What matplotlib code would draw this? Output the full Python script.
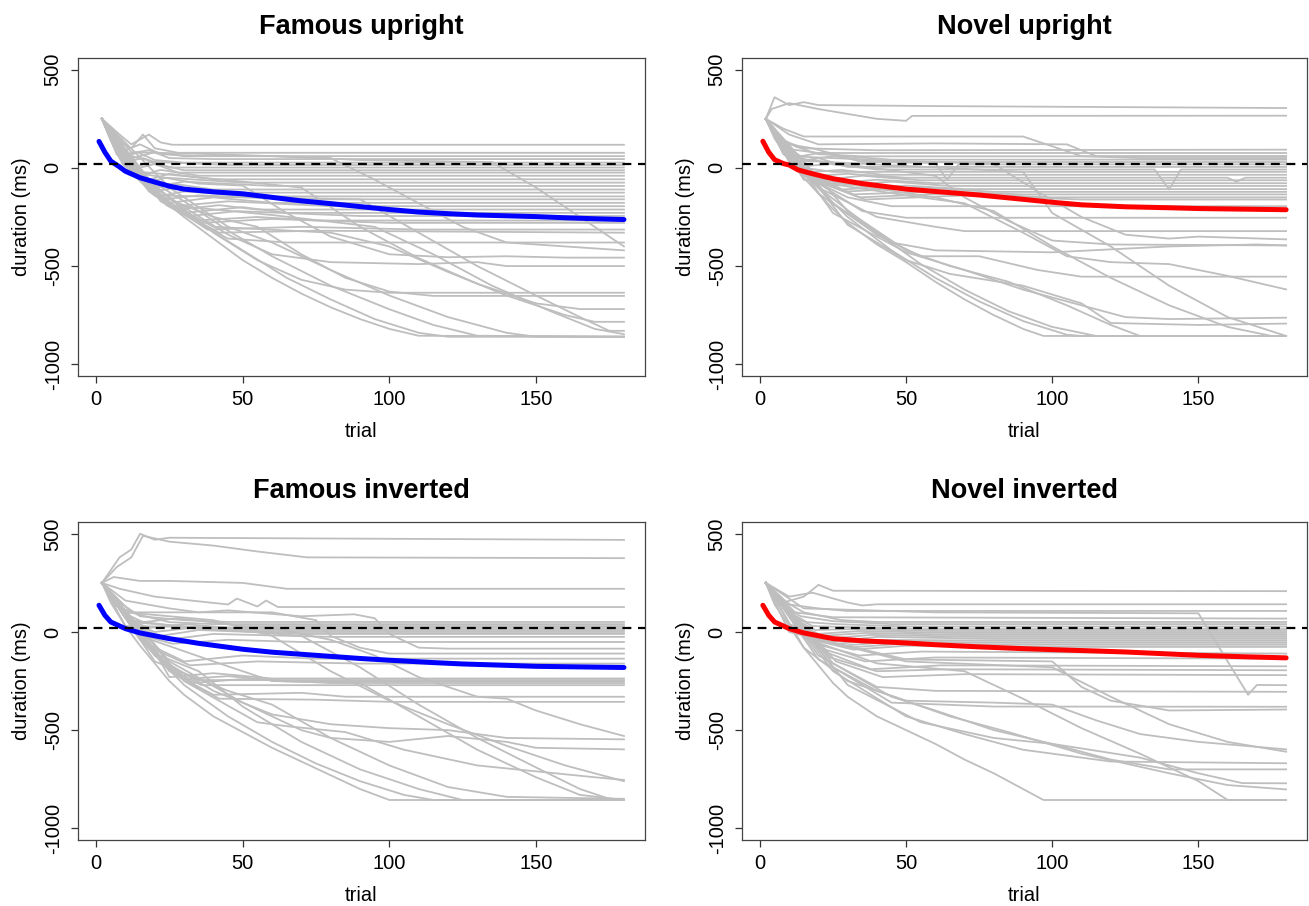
import numpy as np
import matplotlib
matplotlib.use("Agg")
import matplotlib.pyplot as plt

plt.rcParams['font.family'] = ['Liberation Sans', 'DejaVu Sans']
plt.rcParams['axes.unicode_minus'] = False

# ---- data ----
titles = ["Famous upright", "Novel upright", "Famous inverted", "Novel inverted"]
mean_colors = ["#0000FF", "#FF0000", "#0000FF", "#FF0000"]
ref_level = 20
y_ticks = [-1000, -500, 0, 500]
x_ticks = [0, 50, 100, 150]

# group means (trial, duration)
fu_mean_trial = [1, 3, 5, 8, 10, 15, 20, 25, 30, 40, 50, 60, 70, 80, 90, 100, 110, 120, 130, 140, 150, 160, 170, 180]
fu_mean_value = [135, 80, 35, 5, -17, -50, -72, -93, -108, -122, -132, -150, -168, -182, -197, -212, -225, -233, -240, -244, -248, -254, -259, -263]
nu_mean_trial = [1, 3, 5, 8, 10, 13, 18, 25, 35, 50, 60, 75, 90, 100, 110, 125, 140, 150, 165, 180]
nu_mean_value = [136, 80, 42, 22, 15, -10, -30, -55, -80, -108, -120, -138, -160, -175, -188, -198, -203, -207, -210, -213]
fi_mean_trial = [1, 3, 5, 10, 15, 25, 35, 50, 60, 75, 90, 100, 115, 125, 140, 150, 165, 180]
fi_mean_value = [136, 85, 51, 17, -5, -34, -58, -88, -103, -119, -135, -144, -156, -163, -170, -175, -178, -181]
ni_mean_trial = [1, 3, 5, 10, 15, 25, 35, 50, 60, 75, 90, 100, 115, 125, 140, 150, 165, 180]
ni_mean_value = [136, 85, 51, 17, -5, -34, -45, -56, -65, -76, -85, -90, -97, -102, -112, -119, -126, -132]

# individual staircases, each as (trial, duration) break points
fu_traces = [
    [(2,250),(8,170),(12,120),(18,170),(22,130),(26,118),(180,118)],
    [(2,250),(6,150),(12,100),(16,170),(20,100),(28,77),(180,77)],
    [(2,250),(5,180),(10,90),(15,120),(22,70),(35,60),(180,60)],
    [(2,250),(6,130),(10,70),(18,90),(25,50),(40,45),(180,45)],
    [(2,250),(5,150),(9,40),(14,80),(20,40),(30,27),(180,27)],
    [(2,250),(7,90),(12,60),(20,30),(45,15),(180,15)],
    [(2,250),(6,110),(10,30),(16,50),(25,2),(180,2)],
    [(2,250),(8,60),(13,0),(18,30),(30,-12),(180,-12)],
    [(2,250),(7,70),(12,-10),(20,20),(28,-24),(180,-24)],
    [(2,250),(9,20),(15,-40),(22,-10),(35,-40),(180,-40)],
    [(2,250),(6,120),(12,0),(18,-60),(25,-30),(40,-58),(180,-58)],
    [(2,250),(10,10),(17,-75),(24,-50),(50,-75),(180,-75)],
    [(2,250),(8,50),(16,-70),(22,-92),(30,-70),(60,-92),(180,-92)],
    [(2,250),(11,-10),(18,-110),(26,-80),(40,-110),(180,-110)],
    [(2,250),(9,30),(19,-120),(28,-100),(45,-126),(180,-126)],
    [(2,250),(12,-20),(21,-145),(30,-120),(55,-145),(180,-145)],
    [(2,250),(10,10),(23,-160),(35,-140),(70,-160),(180,-160)],
    [(2,250),(13,-40),(25,-178),(40,-150),(60,-178),(180,-178)],
    [(2,250),(14,-50),(27,-195),(45,-170),(80,-195),(180,-195)],
    [(2,250),(15,-60),(28,-212),(42,-190),(55,-212),(180,-212)],
    [(2,250),(16,-80),(30,-229),(50,-200),(65,-229),(180,-229)],
    [(2,250),(18,-110),(32,-245),(48,-220),(90,-245),(180,-245)],
    [(2,250),(17,-100),(34,-268),(55,-250),(75,-268),(180,-268)],
    [(2,250),(20,-140),(36,-280),(60,-260),(100,-280),(180,-280)],
    [(2,250),(19,-130),(38,-314),(70,-300),(110,-314),(180,-314)],
    [(2,250),(22,-170),(42,-330),(75,-320),(180,-330)],
    [(2,250),(24,-190),(45,-360),(65,-380),(180,-380)],
    [(2,250),(10,40),(20,80),(30,60),(60,60),(90,40),(135,30),(150,-100),(165,-250),(180,-400)],
    [(2,250),(12,80),(40,70),(80,50),(95,-60),(110,-180),(125,-300),(140,-380),(160,-400),(180,-420)],
    [(2,250),(12,-20),(35,-80),(50,-90),(65,-230),(80,-350),(100,-440),(120,-455),(140,-450),(160,-457),(180,-457)],
    [(2,250),(15,-50),(30,-200),(45,-340),(60,-440),(80,-480),(110,-490),(130,-480),(140,-500),(180,-500)],
    [(2,250),(10,30),(25,-150),(40,-330),(55,-470),(70,-570),(85,-620),(100,-636),(180,-636)],
    [(2,250),(20,-130),(40,-250),(55,-300),(70,-440),(85,-560),(100,-630),(115,-652),(180,-652)],
    [(2,250),(15,-20),(50,-70),(70,-100),(90,-300),(110,-460),(130,-590),(150,-690),(165,-719),(180,-719)],
    [(2,250),(18,-120),(40,-300),(80,-330),(100,-400),(120,-530),(140,-650),(160,-750),(170,-784),(180,-784)],
    [(2,250),(20,-140),(50,-150),(90,-160),(110,-330),(130,-500),(150,-650),(165,-760),(175,-830),(180,-830)],
    [(2,250),(25,-190),(60,-240),(95,-300),(115,-440),(135,-600),(155,-730),(170,-820),(180,-847)],
    [(2,250),(5,140),(10,30),(15,-60),(20,-130),(25,-190),(30,-250),(40,-360),(50,-470),(60,-560),(70,-640),(80,-710),(90,-770),(100,-820),(110,-855),(180,-860)],
    [(2,250),(10,50),(20,-90),(35,-280),(50,-420),(65,-560),(80,-670),(95,-770),(110,-840),(120,-860),(180,-860)],
    [(2,250),(15,-30),(30,-170),(45,-320),(60,-450),(80,-600),(100,-720),(115,-800),(130,-855),(180,-860)],
    [(2,250),(25,-100),(45,-300),(60,-380),(80,-520),(100,-650),(120,-760),(140,-840),(150,-860),(180,-860)],
]

nu_traces = [
    [(2,250),(5,360),(10,320),(15,335),(20,320),(60,315),(180,305)],
    [(2,250),(4,300),(10,330),(20,300),(40,250),(50,240),(52,265),(180,266)],
    [(2,250),(8,200),(15,160),(90,160),(100,110),(110,60),(130,50),(180,50)],
    [(2,250),(10,170),(20,120),(60,125),(105,120),(115,60),(180,60)],
    [(2,250),(6,150),(15,100),(40,90),(180,93)],
    [(2,250),(8,100),(20,76),(180,76)],
    [(2,250),(6,160),(12,110),(20,70),(35,59),(180,59)],
    [(2,250),(5,180),(10,120),(18,100),(28,60),(45,42),(180,42)],
    [(2,250),(7,120),(14,60),(22,80),(35,30),(180,30)],
    [(2,250),(8,90),(16,40),(25,60),(40,30),(60,25),(64,-60),(68,18),(180,18)],
    [(2,250),(6,140),(13,30),(20,50),(30,5),(180,5)],
    [(2,250),(9,60),(16,10),(24,20),(40,-8),(135,-8),(140,-110),(144,-8),(180,-8)],
    [(2,250),(8,70),(15,0),(25,-20),(180,-20)],
    [(2,250),(10,40),(18,-20),(28,-10),(42,-35),(180,-35)],
    [(2,250),(11,20),(20,-40),(30,-30),(50,-50),(160,-50),(163,-70),(166,-50),(180,-50)],
    [(2,250),(12,10),(22,-60),(35,-40),(55,-63),(180,-63)],
    [(2,250),(10,30),(24,-80),(40,-60),(60,-78),(180,-78)],
    [(2,250),(13,-10),(26,-90),(45,-70),(65,-92),(180,-92)],
    [(2,250),(14,-20),(28,-110),(50,-90),(70,-108),(180,-108)],
    [(2,250),(15,-30),(30,-120),(55,-100),(80,-122),(180,-122)],
    [(2,250),(16,-40),(32,-135),(60,-120),(90,-135),(180,-135)],
    [(2,250),(17,-50),(34,-150),(65,-130),(100,-150),(180,-150)],
    [(2,250),(18,-60),(36,-161),(70,-140),(110,-161),(180,-161)],
    [(2,250),(15,-40),(30,-150),(45,-195),(180,-195)],
    [(2,250),(18,-60),(35,-220),(50,-254),(180,-254)],
    [(2,250),(20,-100),(40,-250),(60,-300),(70,-322),(180,-322)],
    [(2,250),(10,60),(40,40),(80,20),(95,-120),(110,-250),(125,-340),(140,-360),(150,-350),(180,-364)],
    [(2,250),(12,50),(60,-40),(70,-150),(85,-270),(100,-370),(120,-390),(180,-395)],
    [(2,250),(25,-180),(45,-380),(60,-420),(100,-430),(140,-400),(170,-390),(180,-395)],
    [(2,250),(20,-130),(40,-340),(55,-450),(75,-450),(95,-520),(110,-554),(180,-554)],
    [(2,250),(15,-60),(50,-140),(70,-180),(90,-330),(105,-450),(120,-480),(140,-490),(160,-550),(180,-619)],
    [(2,250),(25,-230),(50,-430),(70,-520),(90,-620),(110,-700),(125,-760),(140,-770),(180,-763)],
    [(2,250),(30,-290),(50,-470),(65,-540),(90,-600),(110,-690),(120,-790),(150,-800),(180,-793)],
    [(2,250),(5,150),(10,40),(15,-50),(20,-130),(25,-210),(30,-280),(40,-390),(50,-480),(60,-580),(70,-670),(80,-750),(90,-820),(97,-856),(180,-856)],
    [(2,250),(15,-30),(30,-250),(45,-420),(60,-560),(75,-680),(90,-780),(105,-850),(110,-856),(180,-856)],
    [(2,250),(20,-100),(40,-330),(55,-490),(70,-620),(85,-730),(100,-810),(115,-856),(180,-856)],
    [(2,250),(30,-220),(50,-420),(65,-500),(85,-580),(105,-700),(120,-800),(130,-856),(180,-856)],
    [(2,250),(20,-60),(60,-150),(80,-220),(100,-400),(120,-560),(140,-700),(160,-810),(175,-856),(180,-856)],
    [(2,250),(10,40),(90,-20),(100,-230),(120,-400),(140,-600),(160,-760),(180,-856)],
]

fi_traces = [
    [(2,250),(8,380),(12,420),(15,500),(20,470),(25,480),(180,469)],
    [(2,250),(7,330),(12,380),(16,490),(25,460),(40,440),(55,410),(72,380),(180,376)],
    [(2,250),(6,280),(15,260),(25,260),(50,250),(60,230),(65,220),(180,220)],
    [(2,250),(8,220),(20,180),(45,140),(48,170),(55,130),(58,160),(62,127),(100,127),(180,127)],
    [(2,250),(10,160),(25,120),(35,100),(45,110),(70,80),(88,90),(95,70),(100,-10),(110,-80),(120,-85),(180,-85)],
    [(2,250),(12,100),(60,100),(75,60),(80,-20),(90,-80),(100,-110),(180,-110)],
    [(2,250),(8,150),(15,80),(30,60),(45,51),(180,51)],
    [(2,250),(7,130),(14,90),(25,50),(40,40),(180,40)],
    [(2,250),(9,100),(16,50),(28,70),(50,30),(180,30)],
    [(2,250),(6,160),(12,60),(22,40),(35,20),(180,20)],
    [(2,250),(10,70),(18,20),(30,40),(55,10),(180,10)],
    [(2,250),(11,50),(20,0),(32,20),(60,0),(180,0)],
    [(2,250),(12,30),(22,-20),(35,10),(70,-10),(180,-10)],
    [(2,250),(13,10),(24,-40),(40,-10),(80,-25),(180,-25)],
    [(2,250),(14,-10),(26,-60),(45,-40),(70,-51),(180,-51)],
    [(2,250),(16,-50),(30,-150),(50,-120),(75,-136),(180,-136)],
    [(2,250),(17,-70),(32,-170),(55,-150),(90,-161),(180,-161)],
    [(2,250),(20,-100),(25,-230),(40,-210),(60,-237),(180,-237)],
    [(2,250),(18,-80),(28,-200),(35,-245),(180,-245)],
    [(2,250),(22,-150),(30,-240),(45,-225),(65,-252),(180,-252)],
    [(2,250),(20,-120),(33,-260),(50,-240),(80,-260),(180,-260)],
    [(2,250),(24,-180),(36,-271),(180,-271)],
    [(2,250),(25,-200),(40,-320),(70,-310),(85,-330),(180,-330)],
    [(2,250),(27,-220),(42,-340),(75,-345),(100,-356),(180,-356)],
    [(2,250),(10,30),(60,20),(80,-40),(95,-120),(110,-230),(130,-330),(140,-340),(150,-400),(165,-470),(180,-530)],
    [(2,250),(20,-120),(40,-300),(60,-420),(80,-470),(100,-490),(120,-500),(140,-540),(180,-547)],
    [(2,250),(25,-150),(50,-360),(70,-500),(80,-540),(100,-560),(120,-530),(140,-560),(150,-590),(180,-598)],
    [(2,250),(30,-250),(55,-460),(65,-480),(85,-510),(105,-600),(130,-680),(150,-710),(170,-740),(180,-754)],
    [(2,250),(10,100),(40,60),(60,-20),(80,-200),(100,-350),(120,-470),(140,-580),(160,-680),(180,-760)],
    [(2,250),(5,150),(10,30),(15,-70),(20,-160),(25,-250),(30,-320),(40,-430),(50,-510),(60,-590),(70,-660),(80,-730),(90,-800),(100,-856),(180,-856)],
    [(2,250),(15,-40),(30,-270),(45,-430),(60,-560),(75,-670),(90,-760),(105,-830),(115,-856),(180,-856)],
    [(2,250),(20,-110),(35,-200),(50,-380),(70,-560),(90,-700),(110,-800),(125,-856),(180,-856)],
    [(2,250),(20,-150),(45,-300),(60,-370),(80,-540),(100,-680),(120,-790),(140,-840),(180,-850)],
    [(2,250),(12,50),(70,-20),(90,-180),(110,-370),(130,-540),(150,-690),(165,-800),(175,-850),(180,-856)],
    [(2,250),(15,-20),(40,-150),(60,-250),(90,-260),(110,-430),(130,-600),(150,-740),(165,-830),(180,-856)],
]

ni_traces = [
    [(2,250),(8,150),(15,180),(20,240),(25,210),(180,208)],
    [(2,250),(10,180),(18,200),(30,150),(35,135),(40,141),(180,141)],
    [(2,250),(10,140),(20,120),(30,107),(180,107)],
    [(2,250),(12,100),(25,75),(180,68)],
    [(2,250),(15,120),(60,100),(150,95),(160,-150),(167,-320),(170,-270),(180,-271)],
    [(2,250),(8,160),(15,100),(28,60),(40,51),(180,51)],
    [(2,250),(7,140),(14,80),(25,55),(45,40),(180,40)],
    [(2,250),(9,110),(16,50),(26,40),(50,28),(180,28)],
    [(2,250),(10,90),(18,30),(30,25),(55,15),(180,15)],
    [(2,250),(11,70),(19,10),(32,15),(60,5),(180,5)],
    [(2,250),(12,50),(20,-10),(34,5),(65,-5),(180,-5)],
    [(2,250),(10,40),(21,-20),(36,-5),(70,-15),(180,-15)],
    [(2,250),(13,20),(22,-35),(38,-15),(75,-25),(180,-25)],
    [(2,250),(14,0),(24,-50),(40,-25),(80,-35),(180,-35)],
    [(2,250),(15,-10),(26,-60),(42,-40),(85,-45),(180,-45)],
    [(2,250),(16,-20),(28,-70),(45,-50),(90,-55),(180,-55)],
    [(2,250),(17,-30),(30,-80),(48,-60),(95,-65),(180,-65)],
    [(2,250),(18,-40),(32,-90),(50,-70),(100,-76),(180,-76)],
    [(2,250),(19,-60),(34,-120),(55,-100),(180,-110)],
    [(2,250),(20,-80),(36,-150),(60,-130),(180,-136)],
    [(2,250),(22,-100),(38,-190),(62,-170),(180,-175)],
    [(2,250),(24,-130),(40,-200),(65,-190),(180,-195)],
    [(2,250),(26,-150),(42,-230),(70,-215),(180,-220)],
    [(2,250),(20,-120),(40,-280),(60,-300),(180,-305)],
    [(2,250),(25,-180),(45,-360),(80,-380),(180,-381)],
    [(2,250),(15,-20),(50,-140),(100,-150),(110,-280),(120,-350),(140,-400),(180,-395)],
    [(2,250),(15,-80),(30,-250),(50,-350),(80,-360),(100,-370),(115,-450),(130,-520),(150,-560),(180,-598)],
    [(2,250),(10,0),(50,-150),(100,-180),(120,-330),(140,-470),(160,-560),(180,-610)],
    [(2,250),(25,-200),(50,-430),(70,-520),(90,-600),(120,-660),(180,-669)],
    [(2,250),(30,-270),(55,-460),(80,-540),(100,-570),(120,-650),(140,-700),(180,-700)],
    [(2,250),(25,-160),(45,-330),(60,-400),(80,-500),(100,-570),(130,-640),(150,-720),(165,-770),(180,-771)],
    [(2,250),(20,-140),(40,-300),(65,-430),(85,-510),(110,-620),(140,-720),(160,-780),(180,-802)],
    [(2,250),(5,140),(10,30),(15,-80),(20,-170),(25,-260),(30,-330),(40,-430),(50,-500),(60,-570),(70,-650),(80,-720),(90,-800),(97,-856),(180,-856)],
    [(2,250),(15,-30),(40,-160),(70,-200),(90,-340),(110,-490),(130,-620),(150,-760),(160,-856),(180,-856)],
]

all_traces = [fu_traces, nu_traces, fi_traces, ni_traces]
all_mean_trial = [fu_mean_trial, nu_mean_trial, fi_mean_trial, ni_mean_trial]
all_mean_value = [fu_mean_value, nu_mean_value, fi_mean_value, ni_mean_value]

# axes boxes in figure fractions (left, bottom, width, height)
boxes = [
    [0.0596, 0.585, 0.4331, 0.351],
    [0.5668, 0.585, 0.4317, 0.351],
    [0.0596, 0.0728, 0.4331, 0.351],
    [0.5668, 0.0728, 0.4317, 0.351],
]

fig = plt.figure(figsize=(13.09, 9.06), dpi=100)

for k in range(4):
    ax = fig.add_axes(boxes[k])
    # grey individual lines
    for tr in all_traces[k]:
        xs = [p[0] for p in tr]
        ys = [p[1] for p in tr]
        ax.plot(xs, ys, color='#BEBEBE', lw=1.3, zorder=1)
    # mean line
    ax.plot(all_mean_trial[k], all_mean_value[k], color=mean_colors[k], lw=3.6,
            solid_capstyle='round', zorder=3)
    # reference dashed line
    ax.axhline(ref_level, color='black', lw=1.6, ls='--', dashes=(4, 3), zorder=4)

    ax.set_xlim(-6.16, 187.16)
    ax.set_ylim(-1060, 560)
    ax.set_xticks(x_ticks)
    ax.set_xticklabels([str(v) for v in x_ticks], fontsize=14.5)
    ax.set_yticks(y_ticks)
    ax.set_yticklabels([str(v) for v in y_ticks], fontsize=14.5, rotation=90, va='center')
    ax.tick_params(axis='both', length=5, width=0.9, color='#333333')
    ax.tick_params(axis='x', pad=5)
    ax.tick_params(axis='y', pad=6)
    for s in ax.spines.values():
        s.set_color('#444444')
        s.set_linewidth(0.9)

    ax.set_xlabel('trial', fontsize=14.5)
    ax.xaxis.set_label_coords(0.5, -0.145)
    ax.set_ylabel('duration (ms)', fontsize=14.5)
    ax.yaxis.set_label_coords(-0.083, 0.5)
    ax.set_title(titles[k], fontsize=19.5, fontweight='bold', pad=17)

fig.savefig('out.png', dpi=100)
